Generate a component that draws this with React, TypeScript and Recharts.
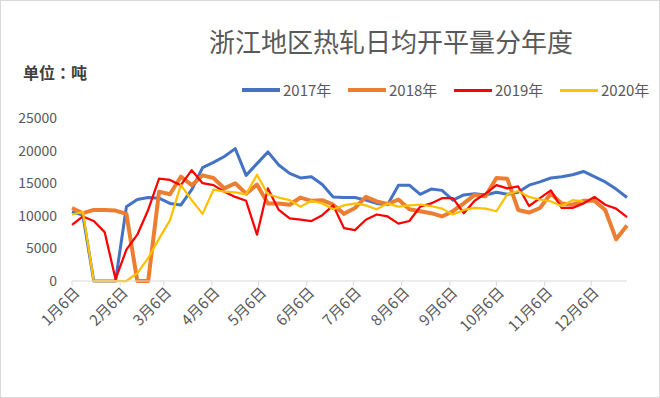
import { LineChart, Line, XAxis, YAxis } from 'recharts';

const FONT = '"Noto Sans CJK SC", "Noto Sans", sans-serif';

const seriesNames = ['2017年', '2018年', '2019年', '2020年'];
const seriesColors = ['#4472C4', '#ED7D31', '#FF0000', '#FFC000'];
const seriesWidths = [3, 4, 2.25, 2.25];

const monthTicks = [0, 31, 59, 90, 120, 151, 181, 212, 243, 273, 304, 334];
const monthLabels = ['1月6日', '2月6日', '3月6日', '4月6日', '5月6日', '6月6日', '7月6日', '8月6日', '9月6日', '10月6日', '11月6日', '12月6日'];
const yTicks = [0, 5000, 10000, 15000, 20000, 25000];

const values2017 = [
  10600, 10100, 0, 0, 0, 11400, 12500, 12800, 12700, 11900, 11650, 14000, 17400,
  18200, 19100, 20300, 16200, 18000, 19800, 17800, 16500, 15800, 16000, 14800, 12900, 12800,
  12800, 12400, 11900, 11700, 14700, 14700, 13300, 14100, 13900, 12400, 13200, 13400, 13200,
  13600, 13300, 13600, 14700, 15200, 15800, 16000, 16300, 16800, 16000, 15200, 14100, 12800,
];
const values2018 = [
  11200, 10400, 10900, 10900, 10800, 10300, 0, 0, 13700, 13300, 16000, 14700, 16200,
  15800, 14200, 15000, 13400, 14800, 11900, 11900, 11700, 12800, 12300, 12400, 11700, 10300,
  11200, 12900, 12200, 11800, 12500, 11000, 10700, 10400, 9900, 10700, 11900, 13200, 13000,
  15800, 15700, 10900, 10500, 11200, 13400, 11900, 11700, 12300, 12300, 10900, 6400, 8500,
];
const values2019 = [
  8600, 9900, 9200, 7500, 300, 4800, 7100, 10900, 15700, 15500, 14700, 17000, 15000,
  14700, 13700, 12900, 12300, 7100, 14200, 10900, 9600, 9400, 9200, 10100, 11600, 8100,
  7800, 9400, 10200, 9900, 8800, 9200, 11400, 11900, 12700, 12700, 10400, 12300, 13400,
  14700, 14200, 14500, 11500, 12700, 13900, 11200, 11200, 11900, 12900, 11700, 11100, 9800,
];
const values2020 = [
  10200, 10600, 0, 0, 0, 0, 1200, 3500, 6500, 9300, 14700, 12400, 10300,
  14000, 13700, 13600, 13300, 16300, 13300, 12800, 12400, 11400, 12300, 11900, 11000, 11600,
  11900, 11600, 11000, 11900, 11400, 11600, 11700, 11500, 11100, 10200, 10900, 11200, 11100,
  10700, 13300, 13800, 12900, 12500, 12200, 11500, 12400, 12200, null, null, null, null,
];

// weekly points, x = days after 1月6日
const data = values2017.map((v, i) => ({
  day: i * 7,
  y2017: v,
  y2018: values2018[i],
  y2019: values2019[i],
  y2020: values2020[i],
}));

const MonthTick = ({ x, y, payload }: any) => {
  const i = monthTicks.indexOf(payload.value);
  const ax = x + 5;
  const ay = y + 2;
  return (
    <text
      x={ax}
      y={ay}
      dy="0.35em"
      transform={`rotate(-45, ${ax}, ${ay})`}
      textAnchor="end"
      fill="#595959"
      fontSize={15}
      fontFamily={FONT}
    >
      {monthLabels[i]}
    </text>
  );
};

const ChartLegend = () => (
  <div
    style={{
      position: 'absolute',
      top: 79,
      left: 241,
      display: 'flex',
      fontFamily: FONT,
      fontSize: 15,
      color: '#595959',
      lineHeight: '20px',
    }}
  >
    {seriesNames.map((name, i) => (
      <div key={name} style={{ display: 'flex', alignItems: 'center', width: 106 }}>
        <div style={{ width: 38, height: i < 2 ? 4 : 3, background: seriesColors[i], marginRight: 3 }} />
        <span>{name}</span>
      </div>
    ))}
  </div>
);

export default function App() {
  const keys = ['y2017', 'y2018', 'y2019', 'y2020'];
  return (
    <div
      style={{
        position: 'absolute',
        left: 0,
        top: 0,
        width: 660,
        height: 398,
        background: '#fff',
        border: '1px solid #d9d9d9',
        boxSizing: 'border-box',
        fontFamily: FONT,
      }}
    >
      <div style={{ position: 'absolute', left: -1, top: -1 }}>
        <LineChart width={660} height={398} data={data} margin={{ top: 118, right: 33, bottom: 57, left: 12 }}>
          <XAxis
            dataKey="day"
            type="number"
            domain={[0, 357]}
            ticks={monthTicks}
            interval={0}
            height={60}
            axisLine={{ stroke: '#d9d9d9' }}
            tickLine={{ stroke: '#d9d9d9' }}
            tickSize={5}
            tick={<MonthTick />}
          />
          <YAxis
            type="number"
            domain={[0, 25000]}
            ticks={yTicks}
            width={60}
            axisLine={false}
            tickLine={false}
            tickMargin={9}
            tick={{ fill: '#595959', fontSize: 14, fontFamily: FONT }}
          />
          {keys.map((k, i) => (
            <Line
              key={k}
              dataKey={k}
              name={seriesNames[i]}
              stroke={seriesColors[i]}
              strokeWidth={seriesWidths[i]}
              strokeLinejoin="round"
              dot={false}
              activeDot={false}
              isAnimationActive={false}
            />
          ))}
        </LineChart>
      </div>
      <div
        style={{
          position: 'absolute',
          left: 0,
          width: 780,
          top: 22,
          textAlign: 'center',
          fontSize: 26,
          color: '#595959',
          lineHeight: '36px',
        }}
      >
        浙江地区热轧日均开平量分年度
      </div>
      <div
        style={{
          position: 'absolute',
          left: 22,
          top: 60,
          fontSize: 16,
          fontWeight: 'bold',
          color: '#404040',
          lineHeight: '22px',
          fontFamily: '"Noto Sans CJK TC", "Noto Sans CJK SC", sans-serif',
        }}
      >
        单位：吨
      </div>
      <ChartLegend />
    </div>
  );
}
